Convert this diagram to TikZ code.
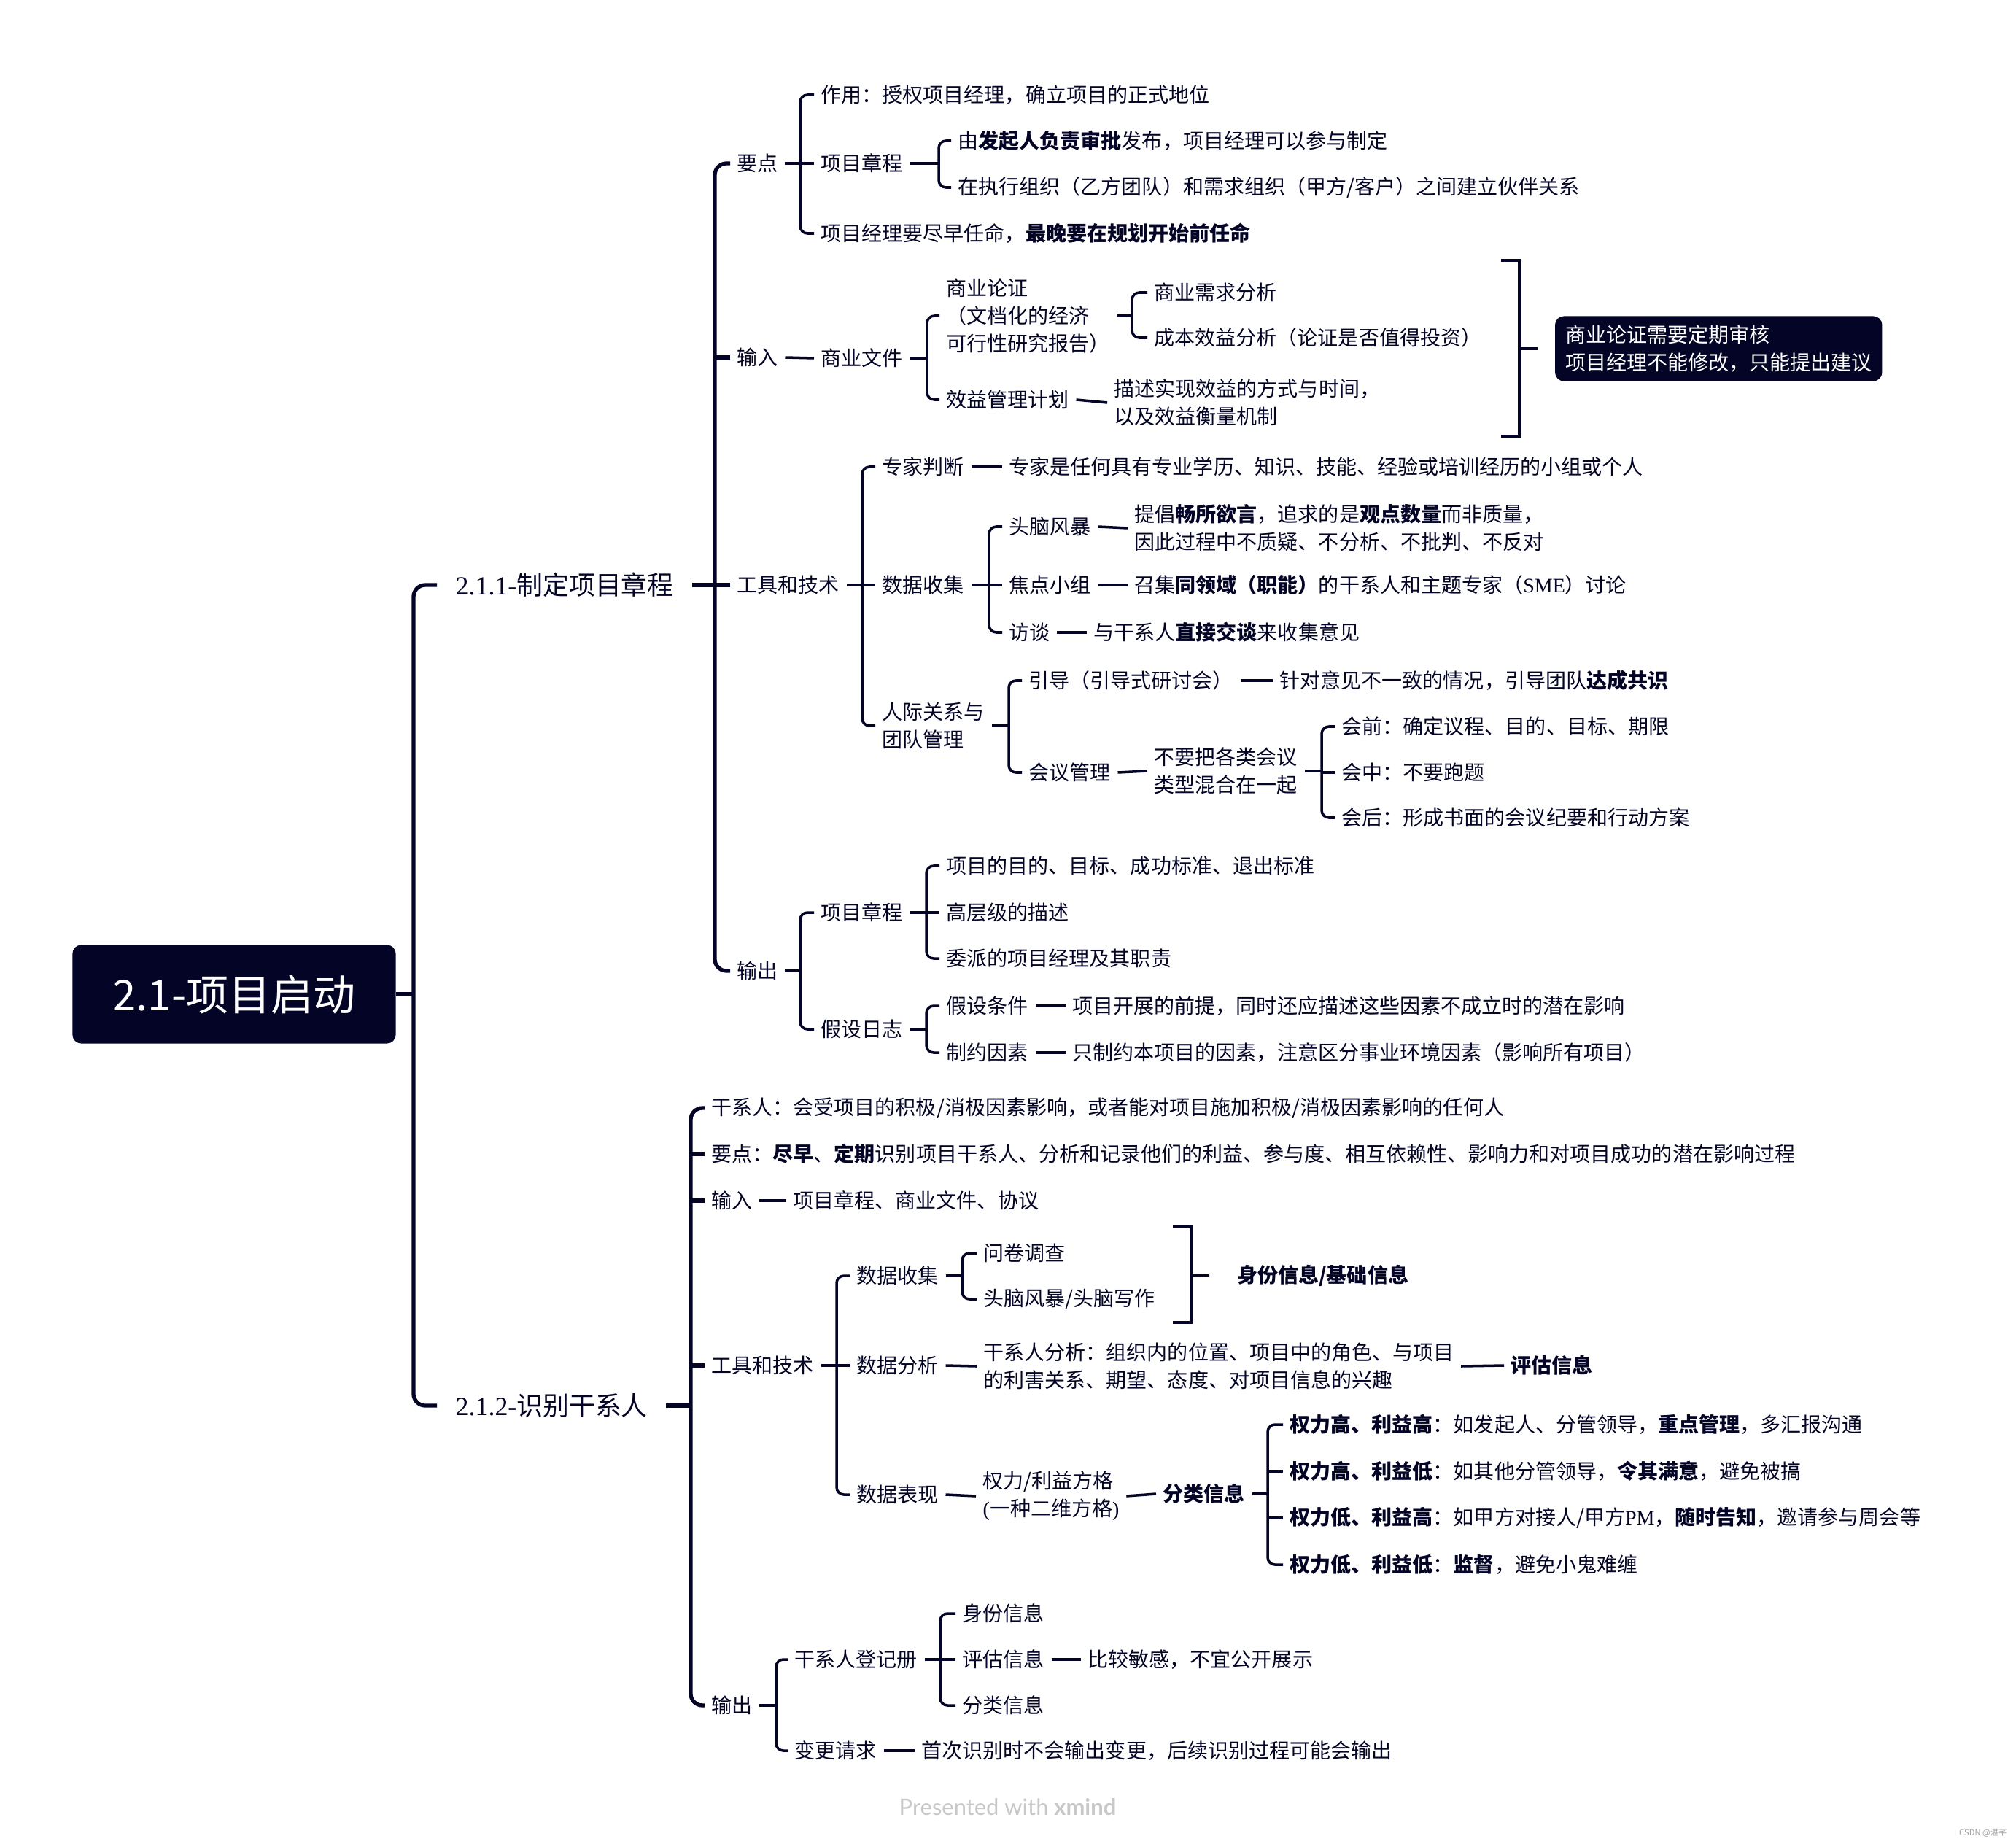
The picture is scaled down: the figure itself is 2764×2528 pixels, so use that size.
\documentclass[tikz,border=0pt]{standalone}
\usepackage{fontspec}
\setmainfont{Noto Sans CJK SC}
\newfontfamily\latserif{Liberation Serif}
\newfontfamily\footfont{Lato}
\usepackage{xcolor}
\definecolor{mapnavy}{RGB}{4,5,38}
\definecolor{footgray}{RGB}{200,200,200}

\begin{document}
\begin{tikzpicture}[x=0.01cm, y=-0.01cm,
  lf/.style={anchor=west, inner xsep=0.09cm, inner ysep=0.02cm, align=left,
             text=mapnavy, font=\fontsize{7.97}{10.8}\selectfont},
  tp/.style={anchor=west, inner xsep=0.25cm, inner ysep=0.02cm,
             text=mapnavy, font=\fontsize{10.2}{13}\selectfont},
  sm/.style={lf, outer xsep=0.29cm, font=\fontsize{7.97}{10.8}\selectfont\bfseries},
  rootbox/.style={fill=mapnavy, rounded corners=0.12cm, text=white, minimum width=4.43cm,
             minimum height=1.35cm, font=\fontsize{16.5}{20}\selectfont},
  notebox/.style={anchor=west, fill=mapnavy, rounded corners=0.12cm, text=white, align=left,
             outer xsep=0.24cm, inner xsep=0.14cm, minimum width=4.48cm, minimum height=0.89cm,
             font=\fontsize{7.97}{10.8}\selectfont},
  br/.style={draw=mapnavy, line width=1pt, rounded corners=0.1cm},
  top/.style={draw=mapnavy, line width=1.5pt, rounded corners=0.16cm},
  bk/.style={draw=mapnavy, line width=1pt}
]
\useasboundingbox[fill=white] (0,0) rectangle (2764,2528);

\node[rootbox] (root) at (321,1363) {2.1-项目启动};
\node[tp] (n211) at (599,802) {{\latserif 2.1.1-}制定项目章程};
\node[tp] (n212) at (599,1927) {{\latserif 2.1.2-}识别干系人};

\coordinate (sp0) at (567,1363);
\coordinate (sp1) at (980,802);
\coordinate (sp2) at (947,1927);

\node[lf] (a1) at (1001,224) {要点};
\node[lf] (a2) at (1001,490) {输入};
\node[lf] (a3) at (1001,802) {工具和技术};
\node[lf] (a4) at (1001,1331) {输出};

\coordinate (sp11) at (1097,224);
\node[lf] (a11) at (1116,130) {作用：授权项目经理，确立项目的正式地位};
\node[lf] (a12) at (1116,224) {项目章程};
\node[lf] (a13) at (1116,320) {项目经理要尽早任命，\textbf{最晚要在规划开始前任命}};
\coordinate (sp12) at (1287,224);
\node[lf] (a121) at (1304,193) {由\textbf{发起人负责审批}发布，项目经理可以参与制定};
\node[lf] (a122) at (1304,257) {在执行组织（乙方团队）和需求组织（甲方/客户）之间建立伙伴关系};

\node[lf] (a21) at (1116,491) {商业文件};
\coordinate (sp21) at (1271,491);
\node[lf] (a211) at (1288,433) {商业论证\\（文档化的经济\\可行性研究报告）};
\node[lf] (a212) at (1288,548) {效益管理计划};
\coordinate (sp211) at (1552,433);
\node[lf] (a2111) at (1573,401) {商业需求分析};
\node[lf] (a2112) at (1573,463) {成本效益分析（论证是否值得投资）};
\node[lf] (a2121) at (1518,552) {描述实现效益的方式与时间，\\以及效益衡量机制};
\coordinate (bk1) at (2083,478);
\node[notebox] (note1) at (2108,478) {商业论证需要定期审核\\项目经理不能修改，只能提出建议};

\coordinate (sp3) at (1182,802);
\node[lf] (a31) at (1200,640) {专家判断};
\node[lf] (a32) at (1200,802) {数据收集};
\node[lf] (a33) at (1200,995) {人际关系与\\团队管理};
\node[lf] (a311) at (1374,640) {专家是任何具有专业学历、知识、技能、经验或培训经历的小组或个人};
\coordinate (sp32) at (1356,802);
\node[lf] (a321) at (1374,722) {头脑风暴};
\node[lf] (a322) at (1374,802) {焦点小组};
\node[lf] (a323) at (1374,867) {访谈};
\node[lf] (a3211) at (1546,724) {提倡\textbf{畅所欲言}，追求的是\textbf{观点数量}而非质量，\\因此过程中不质疑、不分析、不批判、不反对};
\node[lf] (a3221) at (1546,802) {召集\textbf{同领域（职能）}的干系人和主题专家（{\latserif SME}）讨论};
\node[lf] (a3231) at (1490,867) {与干系人\textbf{直接交谈}来收集意见};
\coordinate (sp33) at (1383,995);
\node[lf] (a331) at (1401,933) {引导（引导式研讨会）};
\node[lf] (a332) at (1401,1059) {会议管理};
\node[lf] (a3311) at (1745,933) {针对意见不一致的情况，引导团队\textbf{达成共识}};
\node[lf] (a3321) at (1573,1057) {不要把各类会议\\类型混合在一起};
\coordinate (sp332) at (1812,1057);
\node[lf] (a33211) at (1830,996) {会前：确定议程、目的、目标、期限};
\node[lf] (a33212) at (1830,1059) {会中：不要跑题};
\node[lf] (a33213) at (1830,1121) {会后：形成书面的会议纪要和行动方案};

\coordinate (sp4) at (1097,1331);
\node[lf] (a41) at (1116,1251) {项目章程};
\node[lf] (a42) at (1116,1411) {假设日志};
\coordinate (sp41) at (1270,1251);
\node[lf] (a411) at (1288,1187) {项目的目的、目标、成功标准、退出标准};
\node[lf] (a412) at (1288,1251) {高层级的描述};
\node[lf] (a413) at (1288,1314) {委派的项目经理及其职责};
\coordinate (sp42) at (1270,1411);
\node[lf] (a421) at (1288,1379) {假设条件};
\node[lf] (a422) at (1288,1443) {制约因素};
\node[lf] (a4211) at (1461,1379) {项目开展的前提，同时还应描述这些因素不成立时的潜在影响};
\node[lf] (a4221) at (1461,1443) {只制约本项目的因素，注意区分事业环境因素（影响所有项目）};

\node[lf] (b1) at (966,1519) {干系人：会受项目的积极/消极因素影响，或者能对项目施加积极/消极因素影响的任何人};
\node[lf] (b2) at (966,1582) {要点：\textbf{尽早}、\textbf{定期}识别项目干系人、分析和记录他们的利益、参与度、相互依赖性、影响力和对项目成功的潜在影响过程};
\node[lf] (b3) at (966,1646) {输入};
\node[lf] (b31) at (1078,1646) {项目章程、商业文件、协议};
\node[lf] (b4) at (966,1872) {工具和技术};
\node[lf] (b5) at (966,2338) {输出};

\coordinate (sp24) at (1147,1872);
\node[lf] (b41) at (1165,1749) {数据收集};
\node[lf] (b42) at (1165,1872) {数据分析};
\node[lf] (b43) at (1165,2049) {数据表现};
\coordinate (sp241) at (1319,1749);
\node[lf] (b411) at (1339,1718) {问卷调查};
\node[lf] (b412) at (1339,1781) {头脑风暴/头脑写作};
\coordinate (bk2) at (1633,1748);
\node[sm] (b413) at (1658,1749) {身份信息/基础信息};
\node[lf] (b421) at (1339,1873) {干系人分析：组织内的位置、项目中的角色、与项目\\的利害关系、期望、态度、对项目信息的兴趣};
\node[lf, font=\fontsize{7.97}{10.8}\selectfont\bfseries] (b422) at (2062,1872) {评估信息};
\node[lf] (b431) at (1338,2051) {权力/利益方格\\{\latserif(}一种二维方格{\latserif)}};
\node[lf, font=\fontsize{7.97}{10.8}\selectfont\bfseries] (b432) at (1585,2048) {分类信息};
\coordinate (sp243) at (1738,2048);
\node[lf] (b4321) at (1759,1953) {\textbf{权力高、利益高}：如发起人、分管领导，\textbf{重点管理}，多汇报沟通};
\node[lf] (b4322) at (1759,2017) {\textbf{权力高、利益低}：如其他分管领导，\textbf{令其满意}，避免被搞};
\node[lf] (b4323) at (1759,2081) {\textbf{权力低、利益高}：如甲方对接人/甲方{\latserif PM}，\textbf{随时告知}，邀请参与周会等};
\node[lf] (b4324) at (1759,2145) {\textbf{权力低、利益低}：\textbf{监督}，避免小鬼难缠};

\coordinate (sp25) at (1064,2338);
\node[lf] (b51) at (1080,2275) {干系人登记册};
\node[lf] (b52) at (1080,2400) {变更请求};
\coordinate (sp251) at (1289,2275);
\node[lf] (b511) at (1310,2212) {身份信息};
\node[lf] (b512) at (1310,2275) {评估信息};
\node[lf] (b513) at (1310,2338) {分类信息};
\node[lf] (b5121) at (1482,2275) {比较敏感，不宜公开展示};
\node[lf] (b521) at (1254,2400) {首次识别时不会输出变更，后续识别过程可能会输出};

\node[anchor=west, inner sep=0, text=footgray, font=\footfont\fontsize{8.8}{10}\selectfont] (foot) at (1232,2477) {Presented with \textbf{xmind}};
\node[anchor=east, inner sep=0, text=footgray!80!black, font=\fontsize{3.2}{4}\selectfont] (mark) at (2752,2513) {CSDN @湛芊};

\draw[top] (root.east) -- (root.east -| sp0);
\draw[top] (n211.west) -- (n211.west -| sp0) -- (n212.west -| sp0) -- (n212.west);

\draw[top] (n211.east) -- (n211.east -| sp1);
\draw[top] (a1.west) -- (a1.west -| sp1) -- (a4.west -| sp1) -- (a4.west);
\foreach \c in {a2,a3} \draw[top] (\c.west -| sp1) -- (\c.west);

\draw[br] (a1.east) -- (a1.east -| sp11);
\draw[br] (a11.west) -- (a11.west -| sp11) -- (a13.west -| sp11) -- (a13.west);
\draw[br] (a12.west -| sp11) -- (a12.west);
\draw[br] (a12.east) -- (a12.east -| sp12);
\draw[br] (a121.west) -- (a121.west -| sp12) -- (a122.west -| sp12) -- (a122.west);

\draw[br] (a2.east) -- (a21.west);
\draw[br] (a21.east) -- (a21.east -| sp21);
\draw[br] (a211.west) -- (a211.west -| sp21) -- (a212.west -| sp21) -- (a212.west);
\draw[br] (a211.east) -- (a211.east -| sp211);
\draw[br] (a2111.west) -- (a2111.west -| sp211) -- (a2112.west -| sp211) -- (a2112.west);
\draw[br] (a212.east) -- (a2121.west);
\draw[bk] (2058,357) -- (2083,357) -- (2083,598) -- (2058,598);
\draw[bk] (bk1) -- (note1.west);

\draw[br] (a3.east) -- (a3.east -| sp3);
\draw[br] (a31.west) -- (a31.west -| sp3) -- (a33.west -| sp3) -- (a33.west);
\draw[br] (a32.west -| sp3) -- (a32.west);
\draw[br] (a31.east) -- (a311.west);
\draw[br] (a32.east) -- (a32.east -| sp32);
\draw[br] (a321.west) -- (a321.west -| sp32) -- (a323.west -| sp32) -- (a323.west);
\draw[br] (a322.west -| sp32) -- (a322.west);
\draw[br] (a321.east) -- (a3211.west);
\draw[br] (a322.east) -- (a3221.west);
\draw[br] (a323.east) -- (a3231.west);
\draw[br] (a33.east) -- (a33.east -| sp33);
\draw[br] (a331.west) -- (a331.west -| sp33) -- (a332.west -| sp33) -- (a332.west);
\draw[br] (a331.east) -- (a3311.west);
\draw[br] (a332.east) -- (a3321.west);
\draw[br] (a3321.east) -- (a3321.east -| sp332);
\draw[br] (a33211.west) -- (a33211.west -| sp332) -- (a33213.west -| sp332) -- (a33213.west);
\draw[br] (a33212.west -| sp332) -- (a33212.west);

\draw[br] (a4.east) -- (a4.east -| sp4);
\draw[br] (a41.west) -- (a41.west -| sp4) -- (a42.west -| sp4) -- (a42.west);
\draw[br] (a41.east) -- (a41.east -| sp41);
\draw[br] (a411.west) -- (a411.west -| sp41) -- (a413.west -| sp41) -- (a413.west);
\draw[br] (a412.west -| sp41) -- (a412.west);
\draw[br] (a42.east) -- (a42.east -| sp42);
\draw[br] (a421.west) -- (a421.west -| sp42) -- (a422.west -| sp42) -- (a422.west);
\draw[br] (a421.east) -- (a4211.west);
\draw[br] (a422.east) -- (a4221.west);

\draw[top] (n212.east) -- (n212.east -| sp2);
\draw[top] (b1.west) -- (b1.west -| sp2) -- (b5.west -| sp2) -- (b5.west);
\foreach \c in {b2,b3,b4} \draw[top] (\c.west -| sp2) -- (\c.west);
\draw[br] (b3.east) -- (b31.west);

\draw[br] (b4.east) -- (b4.east -| sp24);
\draw[br] (b41.west) -- (b41.west -| sp24) -- (b43.west -| sp24) -- (b43.west);
\draw[br] (b42.west -| sp24) -- (b42.west);
\draw[br] (b41.east) -- (b41.east -| sp241);
\draw[br] (b411.west) -- (b411.west -| sp241) -- (b412.west -| sp241) -- (b412.west);
\draw[bk] (1608,1682) -- (1633,1682) -- (1633,1813) -- (1608,1813);
\draw[bk] (bk2) -- (b413.west);
\draw[br] (b42.east) -- (b421.west);
\draw[br] (b421.east) -- (b422.west);
\draw[br] (b43.east) -- (b431.west);
\draw[br] (b431.east) -- (b432.west);
\draw[br] (b432.east) -- (b432.east -| sp243);
\draw[br] (b4321.west) -- (b4321.west -| sp243) -- (b4324.west -| sp243) -- (b4324.west);
\foreach \c in {b4322,b4323} \draw[br] (\c.west -| sp243) -- (\c.west);

\draw[br] (b5.east) -- (b5.east -| sp25);
\draw[br] (b51.west) -- (b51.west -| sp25) -- (b52.west -| sp25) -- (b52.west);
\draw[br] (b51.east) -- (b51.east -| sp251);
\draw[br] (b511.west) -- (b511.west -| sp251) -- (b513.west -| sp251) -- (b513.west);
\draw[br] (b512.west -| sp251) -- (b512.west);
\draw[br] (b512.east) -- (b5121.west);
\draw[br] (b52.east) -- (b521.west);
\end{tikzpicture}
\end{document}
